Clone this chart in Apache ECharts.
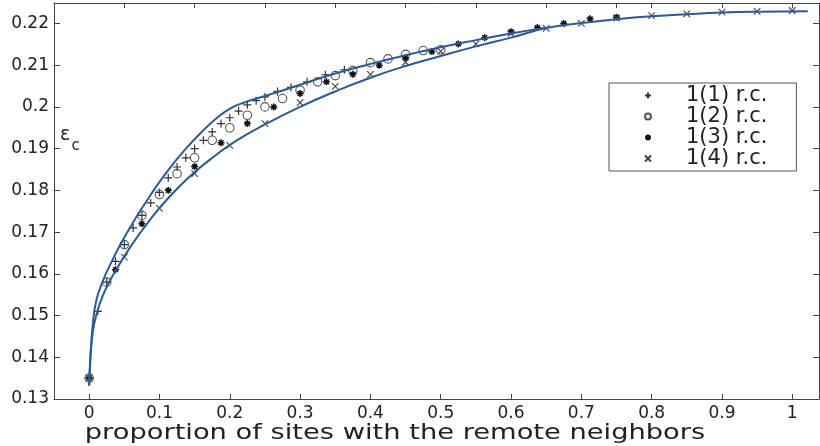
<!DOCTYPE html>
<html><head><meta charset="utf-8">
<script src="https://cdn.jsdelivr.net/npm/echarts@6/dist/echarts.min.js"></script>
<style>html,body{margin:0;padding:0;background:#fff}#c{width:820px;height:446px}</style>
</head><body><div id="c"></div>
<script>
// ---- data ----
const xTicks = [0, 0.1, 0.2, 0.3, 0.4, 0.5, 0.6, 0.7, 0.8, 0.9, 1];
const xTopTicks = [0.05, 0.15, 0.25, 0.35, 0.45, 0.55, 0.65, 0.75, 0.8, 0.9, 1];
const yTicks = [0.13, 0.14, 0.15, 0.16, 0.17, 0.18, 0.19, 0.2, 0.21, 0.22];
const seriesNames = ['1(1) r.c.', '1(2) r.c.', '1(3) r.c.', '1(4) r.c.'];

const rc1 = [[0,0.135],[0.0125,0.151],[0.025,0.158],[0.0375,0.163],[0.05,0.167],[0.0625,0.171],[0.075,0.174],[0.0875,0.177],[0.1,0.1795],[0.1125,0.183],[0.125,0.1856],[0.1375,0.1878],[0.15,0.190],[0.1625,0.192],[0.175,0.194],[0.1875,0.196],[0.2,0.1974],[0.2125,0.199],[0.225,0.2005],[0.2375,0.2015],[0.25,0.2024],[0.268,0.2037],[0.287,0.2047],[0.31,0.206],[0.336,0.2077],[0.363,0.2089]];
const rc2 = [[0,0.135],[0.025,0.158],[0.05,0.167],[0.075,0.174],[0.1,0.179],[0.125,0.184],[0.15,0.1878],[0.175,0.192],[0.2,0.195],[0.225,0.198],[0.25,0.2],[0.275,0.202],[0.3,0.204],[0.325,0.206],[0.35,0.2075],[0.375,0.2087],[0.4,0.2106],[0.425,0.2115],[0.45,0.2126],[0.475,0.2135],[0.5,0.2137]];
const rc3 = [[0,0.135],[0.0375,0.161],[0.075,0.172],[0.1125,0.18],[0.15,0.1857],[0.1875,0.1914],[0.225,0.196],[0.2625,0.2],[0.3,0.2032],[0.3375,0.206],[0.375,0.2078],[0.4125,0.21],[0.45,0.2118],[0.4875,0.2133],[0.525,0.2151],[0.5625,0.2166],[0.6,0.218],[0.6375,0.219],[0.675,0.22],[0.7125,0.2211],[0.75,0.2215]];
const rc4 = [[0,0.135],[0.05,0.164],[0.1,0.1757],[0.15,0.184],[0.2,0.1908],[0.25,0.196],[0.3,0.201],[0.35,0.2049],[0.4,0.2078],[0.45,0.2107],[0.5,0.2133],[0.55,0.2151],[0.6,0.2176],[0.65,0.2188],[0.7,0.22],[0.75,0.2213],[0.8,0.2219],[0.85,0.2223],[0.9,0.2227],[0.95,0.2229],[1.0,0.2231]];

const upperBound = [[0,0.1332],[0.002,0.1405],[0.005,0.1475],[0.01,0.1535],[0.02,0.1585],[0.03,0.1622],[0.045,0.1672],[0.065,0.173],[0.085,0.1783],[0.11,0.1843],[0.135,0.1895],[0.16,0.194],[0.185,0.1978],[0.205,0.2],[0.22,0.201],[0.25,0.2026],[0.3,0.2053],[0.35,0.208],[0.4,0.2103],[0.45,0.2124],[0.5,0.2143],[0.55,0.216],[0.6,0.2176],[0.65,0.219]];
const lowerBound = [[0,0.1332],[0.002,0.1405],[0.005,0.1458],[0.01,0.15],[0.02,0.155],[0.035,0.16],[0.06,0.1668],[0.085,0.1726],[0.11,0.1777],[0.145,0.1836],[0.18,0.1884],[0.21,0.192],[0.25,0.1958],[0.3,0.2],[0.35,0.2037],[0.4,0.207],[0.45,0.2098],[0.5,0.2122],[0.55,0.2145],[0.6,0.2166],[0.65,0.2189],[0.7,0.2201],[0.75,0.221],[0.8,0.2217],[0.85,0.2222],[0.9,0.2226],[0.95,0.2228],[1.022,0.2229]];

// ---- chart ----
const FONT = 'DejaVu Sans';
const frame = {color:'#444', width:1};
const LINE = '#2d5a95';
const chart = echarts.init(document.getElementById('c'));

function mk(name, data, symbol, size, color, bw) {
  return {
    name, type:'scatter', data, symbol, symbolSize:size, z:3,
    itemStyle:{color: symbol === 'circle' ? 'rgba(255,255,255,0)' : 'rgba(0,0,0,0)', borderColor:color, borderWidth:bw, opacity:1}
  };
}
const PLUS = 'path://M5,0L5,10M0,5L10,5';
const CROSS = 'path://M0,0L10,10M10,0L0,10';
const STAR = 'path://M5,0L5,10M0,5L10,5M1.5,1.5L8.5,8.5M8.5,1.5L1.5,8.5';

const baseX = {type:'value', min:-0.05, max:1.038, splitLine:{show:false}};
const baseY = {type:'value', min:0.13, max:0.2249, splitLine:{show:false}};

chart.setOption({
  animation:false,
  backgroundColor:'#fff',
  grid:{left:54, right:1, top:3, bottom:47},
  xAxis:[
    Object.assign({}, baseX, {position:'bottom',
      axisLine:{show:true, onZero:false, lineStyle:frame},
      axisTick:{show:true, inside:true, length:5, customValues:xTicks, lineStyle:frame},
      axisLabel:{customValues:xTicks, fontFamily:FONT, fontSize:17, color:'#222', margin:6, formatter:v=>String(v)}}),
    Object.assign({}, baseX, {position:'top',
      axisLine:{show:true, onZero:false, lineStyle:frame},
      axisTick:{show:true, inside:true, length:5, customValues:xTopTicks, lineStyle:frame},
      axisLabel:{show:false}})
  ],
  yAxis:[
    Object.assign({}, baseY, {position:'left',
      axisLine:{show:true, onZero:false, lineStyle:frame},
      axisTick:{show:true, inside:true, length:6, customValues:yTicks, lineStyle:frame},
      axisLabel:{customValues:yTicks, fontFamily:FONT, fontSize:17, color:'#222', margin:5, formatter:v=>String(v)}}),
    Object.assign({}, baseY, {position:'right',
      axisLine:{show:true, onZero:false, lineStyle:frame},
      axisTick:{show:true, inside:true, length:6, customValues:yTicks, lineStyle:frame},
      axisLabel:{show:false}})
  ],
  legend:{
    orient:'vertical', left:609, top:83,
    data:seriesNames,
    backgroundColor:'#fff', borderColor:'#555', borderWidth:1,
    padding:[2,29,2,35], itemGap:0, itemWidth:66, itemHeight:6,
    textStyle:{fontFamily:FONT, fontSize:21, color:'#222'}
  },
  graphic:[
    {type:'text', x:60, y:135.5, style:{text:'ε', fontFamily:FONT, fontSize:19, fill:'#222', verticalAlign:'middle'}},
    {type:'text', x:71.5, y:146.5, style:{text:'c', fontFamily:FONT, fontSize:15, fill:'#222', verticalAlign:'middle'}},
    {type:'text', x:395, y:433, scaleX:1.24, originX:0, style:{text:'proportion of sites with the remote neighbors', fontFamily:FONT, fontSize:22, fill:'#222', align:'center', verticalAlign:'middle'}}
  ],
  series:[
    mk(seriesNames[0], rc1, PLUS, 8, '#333', 1.2),
    mk(seriesNames[1], rc2, 'circle', 8.5, '#555', 1.1),
    mk(seriesNames[2], rc3, STAR, 7, '#111', 1.5),
    mk(seriesNames[3], rc4, CROSS, 6.5, '#444', 1.1),
    {type:'line', data:upperBound, showSymbol:false, smooth:0.5, lineStyle:{color:LINE, width:2}, z:4, silent:true},
    {type:'line', data:lowerBound, showSymbol:false, smooth:0.5, lineStyle:{color:LINE, width:2}, z:4, silent:true}
  ]
});
</script></body></html>
